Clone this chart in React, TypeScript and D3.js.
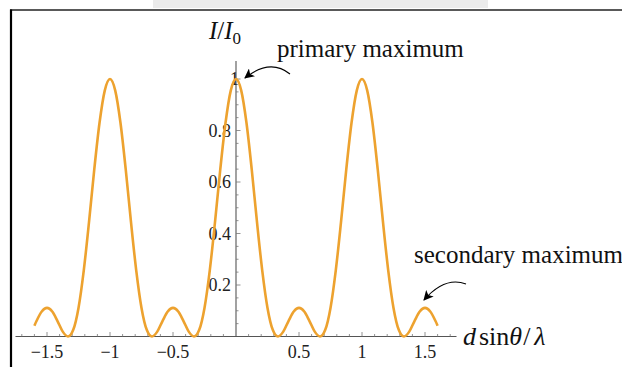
import React from "react";
import * as d3 from "d3";

// Sample positions (d sinθ/λ) and intensities I/I0
const xSamples: number[] = [-1.6, ...d3.range(-38, 39).map((n) => n / 24), 1.6];
const ySamples: number[] = [
  0.042,
  0.06, 0.097, 0.111, 0.097, 0.06, 0.019, 0, 0.026, 0.111, 0.256, 0.444, 0.648, 0.829, 0.955,
  1,
  0.955, 0.829, 0.648, 0.444, 0.256, 0.111, 0.026, 0, 0.019, 0.06, 0.097,
  0.111,
  0.097, 0.06, 0.019, 0, 0.026, 0.111, 0.256, 0.444, 0.648, 0.829, 0.955,
  1,
  0.955, 0.829, 0.648, 0.444, 0.256, 0.111, 0.026, 0, 0.019, 0.06, 0.097,
  0.111,
  0.097, 0.06, 0.019, 0, 0.026, 0.111, 0.256, 0.444, 0.648, 0.829, 0.955,
  1,
  0.955, 0.829, 0.648, 0.444, 0.256, 0.111, 0.026, 0, 0.019, 0.06, 0.097, 0.111, 0.097, 0.06,
  0.042,
];

const xTickValues: number[] = [-1.5, -1, -0.5, 0.5, 1, 1.5];
const xTickLabels: string[] = ["\u22121.5", "\u22121", "\u22120.5", "0.5", "1", "1.5"];
const yTickValues: number[] = [0.2, 0.4, 0.6, 0.8, 1];
const yTickLabels: string[] = ["0.2", "0.4", "0.6", "0.8", "1"];
const xMinorTicks: number[] = d3.range(-17, 18).map((i) => i / 10);
const yMinorTicks: number[] = d3.range(1, 21).map((i) => i / 20);

const W = 622;
const H = 367;
const FONT = "'Liberation Serif', 'Times New Roman', serif";

export default function App() {
  const x = d3.scaleLinear().domain([-1.75, 1.75]).range([15.5, 456.5]);
  const y = d3.scaleLinear().domain([0, 1]).range([336.5, 79]);

  const data = xSamples.map((xv, i) => [xv, ySamples[i]] as [number, number]);
  const line = d3
    .line<[number, number]>()
    .x((d) => x(d[0]))
    .y((d) => y(d[1]))
    .curve(d3.curveMonotoneX);

  const x0 = x(0);
  const yBase = y(0);

  const isMajor = (v: number) => Math.abs(v * 2 - Math.round(v * 2)) < 1e-6;
  const isMajorY = (v: number) => Math.abs(v * 5 - Math.round(v * 5)) < 1e-6;

  return (
    <svg
      width={W}
      height={H}
      style={{ position: "absolute", left: 0, top: 0, background: "#fff" }}
      fontFamily={FONT}
    >
      <defs>
        <marker id="ah" viewBox="0 0 10 10" refX="9" refY="5" markerWidth="10" markerHeight="10" orient="auto-start-reverse" markerUnits="userSpaceOnUse">
          <path d="M0,0 L10,5 L0,10 L2.5,5 Z" fill="#000" />
        </marker>
      </defs>
      {/* top grey band and frame */}
      <rect x={153} y={0} width={335} height={8} fill="#ebebeb" />
      <line x1={10} y1={10} x2={W} y2={10} stroke="#222" strokeWidth={1.6} />
      <line x1={11} y1={9.5} x2={11} y2={H} stroke="#000" strokeWidth={2.2} />

      {/* axes */}
      <line x1={x(-1.75)} y1={yBase} x2={x(1.75)} y2={yBase} stroke="#555" strokeWidth={1.1} />
      <line x1={x0} y1={yBase} x2={x0} y2={y(1.07)} stroke="#555" strokeWidth={1.1} />

      {xMinorTicks.filter((v) => Math.abs(v) > 1e-6).map((v, i) => (
        <line key={"xm" + i} x1={x(v)} x2={x(v)} y1={yBase} y2={yBase - (isMajor(v) ? 4.5 : 2.5)} stroke="#777" strokeWidth={0.8} />
      ))}
      {yMinorTicks.map((v, i) => (
        <line key={"ym" + i} x1={x0} x2={x0 + (isMajorY(v) ? 4.5 : 2.5)} y1={y(v)} y2={y(v)} stroke="#777" strokeWidth={0.8} />
      ))}

      {xTickValues.map((v, i) => (
        <text key={"xl" + i} x={x(v)} y={358} textAnchor="middle" fontSize={18} fill="#222">
          {xTickLabels[i]}
        </text>
      ))}
      {yTickValues.map((v, i) => (
        <text key={"yl" + i} x={v === 1 ? x0 + 3 : x0 - 5} y={y(v) + 6} textAnchor="end" fontSize={18} fill="#222">
          {yTickLabels[i]}
        </text>
      ))}

      {/* curve */}
      <path d={line(data) || ""} fill="none" stroke="#eda22f" strokeWidth={2.6} strokeLinejoin="round" />

      {/* axis titles */}
      <text x={209} y={39} fontSize={25} fill="#111">
        <tspan fontStyle="italic">I</tspan>
        <tspan>/</tspan>
        <tspan fontStyle="italic">I</tspan>
        <tspan fontSize={17} dy={5}>0</tspan>
      </text>
      <text x={463} y={345} fontSize={26} fill="#111">
        <tspan fontStyle="italic">d</tspan>
        <tspan dx={3}>sin</tspan>
        <tspan fontStyle="italic">θ</tspan>
        <tspan dx={1}>/</tspan>
        <tspan dx={4} fontStyle="italic">λ</tspan>
      </text>

      {/* annotations */}
      <text x={277} y={57} fontSize={25} fill="#111">primary maximum</text>
      <path d="M290,74 Q270,58 245,78" fill="none" stroke="#000" strokeWidth={1.1} markerEnd="url(#ah)" />
      <text x={414} y={263} fontSize={25} fill="#111">secondary maximum</text>
      <path d="M466,284 Q445,276 424,300" fill="none" stroke="#000" strokeWidth={1.1} markerEnd="url(#ah)" />
    </svg>
  );
}
